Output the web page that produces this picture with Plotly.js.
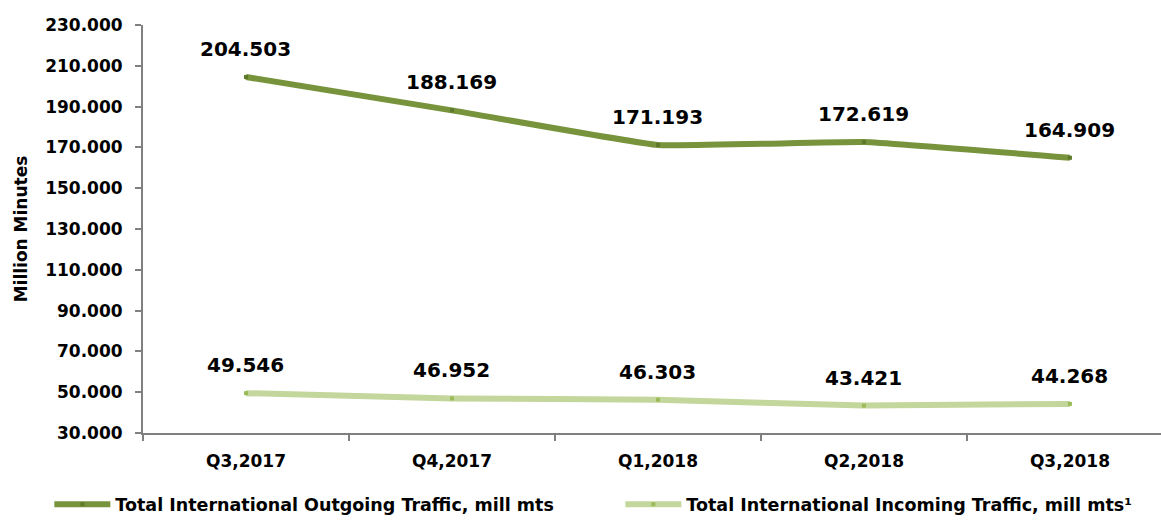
<!DOCTYPE html>
<html>
<head>
<meta charset="utf-8">
<script src="https://cdn.plot.ly/plotly-3.0.1.min.js"></script>
<style>html,body{margin:0;padding:0;background:#fff;}#chart{width:1161px;height:520px;}</style>
</head>
<body>
<div id="chart"></div>
<script>
var categories = ["Q3,2017", "Q4,2017", "Q1,2018", "Q2,2018", "Q3,2018"];
var outgoing = [204.503, 188.169, 171.193, 172.619, 164.909];
var incoming = [49.546, 46.952, 46.303, 43.421, 44.268];
var seriesNames = ["Total International Outgoing Traffic, mill mts", "Total International Incoming Traffic, mill mts\u00b9"];
var yTicks = [30, 50, 70, 90, 110, 130, 150, 170, 190, 210, 230];

var FONT = "'DejaVu Sans', sans-serif";
var darkLine = "#77933C", darkMark = "#5C7A2A";
var lightLine = "#C3D69B", lightMark = "#9BBB59";

function fmt(v){ return v.toFixed(3); }

var traces = [
  {x: categories, y: outgoing, name: seriesNames[0], type: "scatter", mode: "lines+markers",
   line: {color: darkLine, width: 6, shape: "spline", smoothing: 0.3},
   marker: {symbol: "square", size: 4, color: darkMark}},
  {x: categories, y: incoming, name: seriesNames[1], type: "scatter", mode: "lines+markers",
   line: {color: lightLine, width: 6, shape: "spline", smoothing: 0.3},
   marker: {symbol: "square", size: 4, color: lightMark}}
];

var annotations = [];
[outgoing, incoming].forEach(function(series){
  series.forEach(function(v, i){
    annotations.push({x: categories[i], y: v, xref: "x", yref: "y", text: fmt(v),
      showarrow: false, yanchor: "bottom", yshift: 14,
      font: {family: FONT, size: 20, color: "#000", weight: "bold"}});
  });
});

var layout = {
  width: 1161, height: 520,
  margin: {l: 143, r: 0, t: 25, b: 87, autoexpand: false},
  paper_bgcolor: "#fff", plot_bgcolor: "#fff",
  font: {family: FONT, color: "#000"},
  showlegend: true,
  legend: {orientation: "h", x: -0.092, xanchor: "left", y: -0.175, yanchor: "middle",
    font: {family: FONT, size: 17.5, color: "#000", weight: "bold"},
    itemwidth: 56, entrywidth: 500, traceorder: "normal", tracegroupgap: 0},
  xaxis: {type: "category", range: [-0.5, 4.442], tickson: "boundaries",
    showline: true, linecolor: "#808080", linewidth: 2, ticks: "outside", ticklen: 6,
    tickcolor: "#808080", tickwidth: 2, showgrid: false, zeroline: false, automargin: false,
    ticklabelstandoff: 12,
    tickfont: {family: FONT, size: 17, color: "#000", weight: "bold"}, fixedrange: true},
  yaxis: {range: [30, 230], tickvals: yTicks, ticktext: yTicks.map(fmt), automargin: false,
    showline: true, linecolor: "#808080", linewidth: 2, ticks: "outside", ticklen: 6,
    tickcolor: "#808080", tickwidth: 2, showgrid: false, zeroline: false,
    ticklabelstandoff: 9,
    tickfont: {family: FONT, size: 17, color: "#000", weight: "bold"},
    title: {text: "Million Minutes", font: {family: FONT, size: 17, color: "#000", weight: "bold"}, standoff: 13}},
  annotations: annotations
};

Plotly.newPlot("chart", traces, layout, {displayModeBar: false, staticPlot: true});
</script>
</body>
</html>
